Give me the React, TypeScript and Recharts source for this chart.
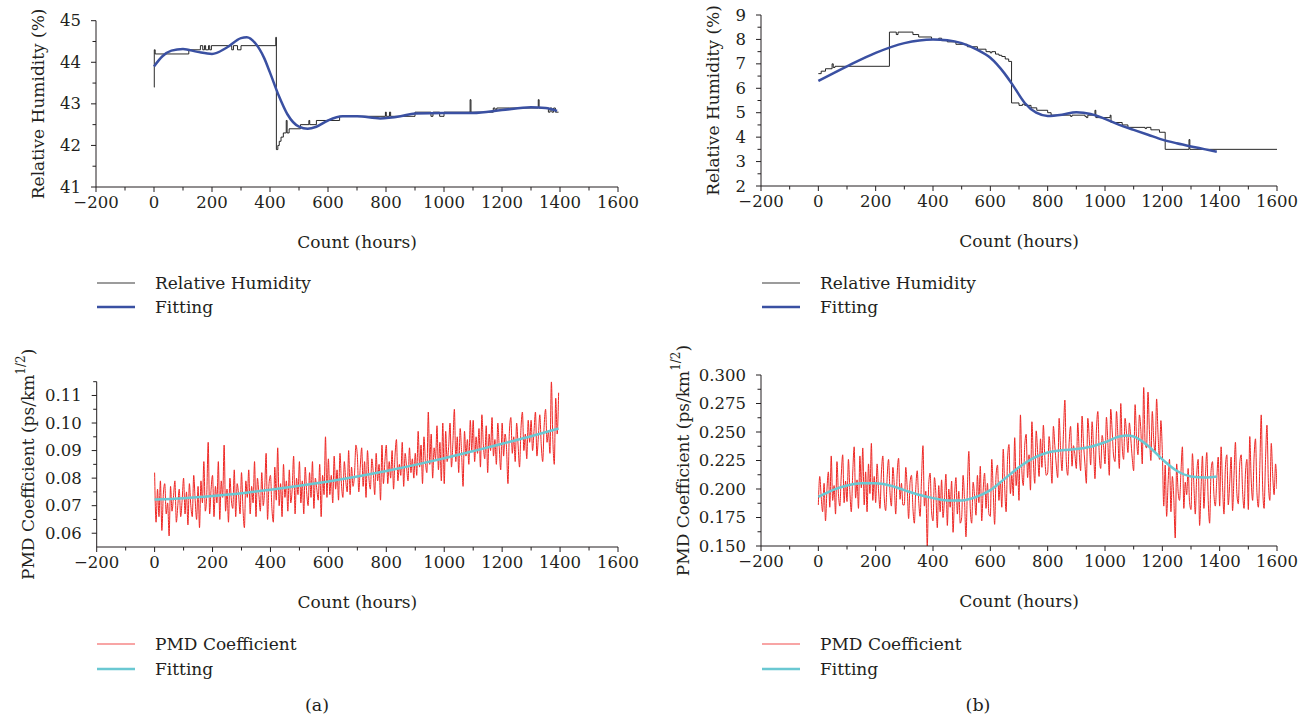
import React from "react";
import { LineChart, Line, XAxis, YAxis, Legend } from "recharts";

const FONT = '"DejaVu Serif", "Liberation Serif", serif';
const INK = "#231f20";

// shared x axis (hours)
const hourMajor = [-200, 0, 200, 400, 600, 800, 1000, 1200, 1400, 1600];
const hourMinor = [-100, 100, 300, 500, 700, 900, 1100, 1300, 1500];

// (a) relative humidity, step record
const rhAHours = [0, 1, 4, 120, 160, 168, 174, 178, 188, 192, 198, 268, 274, 288, 300, 420, 422, 427, 432, 438, 446, 456, 459, 466, 505, 534, 537, 560, 640, 798, 801, 812, 816, 900, 955, 962, 985, 1000, 1090, 1093, 1170, 1176, 1182, 1325, 1328, 1360, 1366, 1372, 1378, 1384, 1395];
const rhAValues = [43.4, 44.3, 44.2, 44.3, 44.4, 44.3, 44.4, 44.3, 44.4, 44.3, 44.4, 44.3, 44.4, 44.3, 44.4, 44.6, 41.9, 42.0, 42.1, 42.2, 42.3, 42.6, 42.3, 42.4, 42.5, 42.6, 42.5, 42.6, 42.7, 42.8, 42.7, 42.8, 42.7, 42.8, 42.7, 42.8, 42.7, 42.8, 43.1, 42.8, 42.9, 42.85, 42.9, 43.1, 42.9, 42.8, 42.9, 42.8, 42.9, 42.8, 42.8];
const fitAHours = [0, 30, 60, 100, 150, 200, 250, 300, 320, 350, 380, 400, 430, 460, 500, 530, 560, 600, 650, 700, 780, 850, 900, 1000, 1100, 1200, 1300, 1350, 1390];
const fitAValues = [43.9, 44.15, 44.28, 44.32, 44.25, 44.2, 44.35, 44.58, 44.6, 44.45, 44.1, 43.75, 43.2, 42.75, 42.45, 42.4, 42.45, 42.6, 42.7, 42.7, 42.65, 42.7, 42.77, 42.78, 42.78, 42.85, 42.92, 42.9, 42.83];

// (b) relative humidity, step record
const rhBHours = [0, 10, 25, 48, 52, 58, 248, 272, 278, 330, 350, 395, 420, 430, 450, 480, 520, 555, 585, 600, 605, 618, 630, 640, 652, 664, 674, 700, 712, 720, 742, 762, 800, 812, 880, 885, 930, 935, 940, 965, 968, 1018, 1021, 1060, 1080, 1140, 1145, 1160, 1190, 1210, 1293, 1296, 1600];
const rhBValues = [6.6, 6.7, 6.8, 7.0, 6.85, 6.9, 8.3, 8.2, 8.3, 8.2, 8.1, 8.0, 8.05, 7.95, 7.9, 7.8, 7.7, 7.6, 7.5, 7.45, 7.5, 7.4, 7.35, 7.3, 7.2, 7.1, 5.4, 5.3, 5.35, 5.3, 5.2, 5.1, 5.0, 4.9, 4.85, 4.9, 4.85, 4.8, 4.9, 5.1, 4.8, 4.9, 4.6, 4.5, 4.4, 4.35, 4.4, 4.3, 4.2, 3.5, 3.9, 3.5, 3.5];
const fitBHours = [0, 100, 200, 300, 400, 450, 500, 550, 600, 650, 680, 720, 760, 800, 850, 900, 950, 1000, 1050, 1100, 1150, 1200, 1250, 1300, 1350, 1390];
const fitBValues = [6.3, 6.9, 7.45, 7.85, 8.0, 7.97, 7.85, 7.6, 7.25, 6.6, 6.1, 5.4, 5.0, 4.87, 4.92, 5.02, 4.95, 4.75, 4.5, 4.3, 4.1, 3.9, 3.75, 3.62, 3.5, 3.4];

// PMD readings are one every 5 h starting at 0 h
const pmdStep = 5;

// (c) PMD coefficient, one row per 100 h
const pmdCValues = [
  0.082, 0.064, 0.076, 0.066, 0.079, 0.061, 0.074, 0.078, 0.067, 0.071, 0.059, 0.077, 0.068, 0.073, 0.079, 0.064, 0.070, 0.076, 0.066, 0.072,
  0.080, 0.067, 0.075, 0.063, 0.078, 0.070, 0.066, 0.081, 0.072, 0.065, 0.077, 0.062, 0.079, 0.071, 0.086, 0.068, 0.074, 0.093, 0.067, 0.076,
  0.081, 0.066, 0.077, 0.071, 0.086, 0.065, 0.079, 0.073, 0.092, 0.068, 0.076, 0.064, 0.080, 0.072, 0.069, 0.083, 0.066, 0.078, 0.074, 0.067,
  0.082, 0.069, 0.062, 0.079, 0.073, 0.083, 0.067, 0.077, 0.071, 0.086, 0.066, 0.080, 0.074, 0.068, 0.082, 0.070, 0.076, 0.089, 0.065, 0.078,
  0.081, 0.069, 0.064, 0.084, 0.072, 0.091, 0.070, 0.078, 0.066, 0.085, 0.073, 0.079, 0.068, 0.083, 0.071, 0.076, 0.088, 0.067, 0.080, 0.074,
  0.086, 0.071, 0.079, 0.067, 0.084, 0.075, 0.070, 0.082, 0.073, 0.086, 0.069, 0.080, 0.076, 0.072, 0.085, 0.066, 0.081, 0.074, 0.095, 0.073,
  0.087, 0.074, 0.081, 0.071, 0.088, 0.076, 0.083, 0.072, 0.089, 0.078, 0.073, 0.086, 0.079, 0.075, 0.090, 0.074, 0.084, 0.077, 0.081, 0.092,
  0.088, 0.075, 0.084, 0.091, 0.077, 0.086, 0.073, 0.090, 0.080, 0.076, 0.087, 0.082, 0.074, 0.089, 0.079, 0.085, 0.072, 0.092, 0.078, 0.086,
  0.092, 0.078, 0.086, 0.080, 0.090, 0.076, 0.088, 0.094, 0.079, 0.085, 0.081, 0.093, 0.077, 0.089, 0.084, 0.079, 0.091, 0.082, 0.087, 0.080,
  0.089, 0.081, 0.097, 0.084, 0.092, 0.078, 0.095, 0.086, 0.082, 0.104, 0.085, 0.096, 0.080, 0.091, 0.087, 0.099, 0.083, 0.093, 0.079, 0.100,
  0.078, 0.097, 0.086, 0.091, 0.100, 0.084, 0.093, 0.105, 0.086, 0.095, 0.082, 0.098, 0.089, 0.077, 0.097, 0.088, 0.094, 0.085, 0.101, 0.090,
  0.101, 0.086, 0.095, 0.089, 0.098, 0.084, 0.103, 0.092, 0.087, 0.099, 0.082, 0.096, 0.090, 0.102, 0.088, 0.094, 0.085, 0.100, 0.091, 0.083,
  0.100, 0.088, 0.096, 0.091, 0.078, 0.097, 0.102, 0.089, 0.095, 0.086, 0.100, 0.092, 0.084, 0.098, 0.104, 0.090, 0.096, 0.087, 0.101, 0.093,
  0.101, 0.090, 0.097, 0.104, 0.088, 0.095, 0.103, 0.092, 0.086, 0.099, 0.105, 0.093, 0.097, 0.089, 0.115, 0.094, 0.085, 0.109, 0.096, 0.111,
];
const fitCHours = [0, 100, 200, 300, 400, 500, 600, 700, 800, 900, 1000, 1100, 1200, 1300, 1395];
const fitCValues = [0.0722, 0.0727, 0.0735, 0.0745, 0.0758, 0.0772, 0.0788, 0.0806, 0.0826, 0.0848, 0.0872, 0.0898, 0.0925, 0.0952, 0.098];

// (d) PMD coefficient, one row per 100 h
const pmdDValues = [
  0.186, 0.211, 0.193, 0.180, 0.205, 0.172, 0.199, 0.215, 0.184, 0.229, 0.190, 0.203, 0.178, 0.224, 0.196, 0.185, 0.212, 0.230, 0.188, 0.207,
  0.189, 0.226, 0.198, 0.180, 0.214, 0.237, 0.192, 0.208, 0.183, 0.229, 0.201, 0.236, 0.186, 0.215, 0.180, 0.222, 0.196, 0.240, 0.190, 0.211,
  0.188, 0.222, 0.199, 0.183, 0.214, 0.229, 0.192, 0.181, 0.210, 0.226, 0.197, 0.185, 0.219, 0.203, 0.178, 0.213, 0.227, 0.191, 0.205, 0.186,
  0.186, 0.219, 0.201, 0.174, 0.206, 0.212, 0.183, 0.170, 0.201, 0.216, 0.190, 0.176, 0.209, 0.238, 0.185, 0.198, 0.150, 0.204, 0.214, 0.180,
  0.172, 0.210, 0.196, 0.166, 0.203, 0.180, 0.208, 0.175, 0.191, 0.213, 0.168, 0.200, 0.184, 0.207, 0.162, 0.193, 0.210, 0.178, 0.198, 0.170,
  0.175, 0.212, 0.190, 0.158, 0.201, 0.233, 0.183, 0.170, 0.206, 0.194, 0.177, 0.212, 0.188, 0.220, 0.172, 0.199, 0.214, 0.183, 0.205, 0.178,
  0.176, 0.226, 0.199, 0.169, 0.212, 0.221, 0.190, 0.207, 0.184, 0.235, 0.202, 0.180, 0.226, 0.239, 0.196, 0.212, 0.194, 0.245, 0.203, 0.218,
  0.190, 0.265, 0.216, 0.203, 0.238, 0.248, 0.210, 0.230, 0.199, 0.259, 0.225, 0.205, 0.251, 0.232, 0.211, 0.244, 0.219, 0.256, 0.228, 0.212,
  0.214, 0.246, 0.229, 0.205, 0.255, 0.238, 0.221, 0.210, 0.262, 0.235, 0.216, 0.248, 0.278, 0.224, 0.212, 0.241, 0.255, 0.220, 0.238, 0.230,
  0.218, 0.258, 0.233, 0.216, 0.264, 0.240, 0.222, 0.205, 0.262, 0.245, 0.221, 0.259, 0.236, 0.209, 0.251, 0.268, 0.230, 0.218, 0.247, 0.238,
  0.222, 0.263, 0.240, 0.212, 0.270, 0.251, 0.229, 0.224, 0.268, 0.246, 0.218, 0.275, 0.238, 0.226, 0.262, 0.249, 0.232, 0.258, 0.244, 0.227,
  0.216, 0.274, 0.245, 0.230, 0.265, 0.252, 0.222, 0.289, 0.240, 0.236, 0.285, 0.250, 0.225, 0.268, 0.243, 0.232, 0.279, 0.248, 0.226, 0.260,
  0.232, 0.185, 0.221, 0.176, 0.205, 0.226, 0.180, 0.211, 0.192, 0.157, 0.222, 0.198, 0.190, 0.215, 0.237, 0.183, 0.206, 0.195, 0.218, 0.188,
  0.182, 0.231, 0.204, 0.178, 0.213, 0.226, 0.168, 0.200, 0.229, 0.183, 0.210, 0.232, 0.190, 0.170, 0.216, 0.224, 0.195, 0.185, 0.209, 0.228,
  0.185, 0.237, 0.203, 0.178, 0.219, 0.230, 0.186, 0.205, 0.228, 0.181, 0.212, 0.241, 0.196, 0.187, 0.222, 0.230, 0.198, 0.183, 0.214, 0.226,
  0.182, 0.246, 0.208, 0.190, 0.228, 0.244, 0.197, 0.184, 0.219, 0.265, 0.201, 0.183, 0.226, 0.256, 0.205, 0.190, 0.240, 0.212, 0.195, 0.222,
  0.200,
];
const fitDHours = [0, 50, 100, 150, 200, 250, 300, 350, 400, 450, 500, 550, 600, 650, 700, 750, 800, 850, 900, 950, 1000, 1050, 1080, 1100, 1150, 1200, 1250, 1300, 1350, 1390];
const fitDValues = [0.193, 0.199, 0.203, 0.205, 0.205, 0.203, 0.199, 0.195, 0.192, 0.19, 0.19, 0.193, 0.199, 0.209, 0.219, 0.227, 0.232, 0.234, 0.235, 0.237, 0.241, 0.246, 0.247, 0.246, 0.238, 0.226, 0.216, 0.211, 0.21, 0.211];

const pairs = (hours: number[], values: number[]) => hours.map((h, i) => ({ h, v: values[i] }));
const sampled = (values: number[]) => values.map((v, i) => ({ h: i * pmdStep, v }));

const near = (v: number, list: number[]) => list.some((t) => Math.abs(t - v) < 1e-9);

function XTick(props: any) {
  const { x, y, payload } = props;
  const v = payload.value;
  const major = near(v, hourMajor);
  return (
    <g>
      <line x1={x} x2={x} y1={y} y2={y + (major ? 5 : 3.5)} stroke={INK} strokeWidth={1} />
      {major && (
        <text x={x} y={y + 21} textAnchor="middle" fill={INK} fontSize={16.5} fontFamily={FONT}>
          {v < 0 ? "\u2212" + Math.abs(v) : String(v)}
        </text>
      )}
    </g>
  );
}

function YTick(props: any) {
  const { x, y, payload, majors, digits } = props;
  const v = payload.value;
  const major = near(v, majors);
  return (
    <g>
      <line x1={x - (major ? 5 : 3.5)} x2={x} y1={y} y2={y} stroke={INK} strokeWidth={1} />
      {major && (
        <text x={x - 15} y={y + 5.5} textAnchor="end" fill={INK} fontSize={16.5} fontFamily={FONT}>
          {digits > 0 ? v.toFixed(digits) : String(v)}
        </text>
      )}
    </g>
  );
}

type Series = { name: string; data: { h: number; v: number }[]; color: string; width: number; step?: boolean; legendOpacity: number };

type PanelProps = {
  box: { left: number; top: number; width: number; height: number };
  plot: { left: number; top: number; right: number; bottom: number };
  yDomain: [number, number];
  yMajor: number[];
  yMinor: number[];
  digits: number;
  yTitle: React.ReactNode;
  yTitleX: number;
  series: Series[];
  legendLeft: number;
  legendTop: number;
  legendRow: number;
};

function Panel(p: PanelProps) {
  const yW = 50;
  const xH = 60;
  const margin = {
    top: p.plot.top - p.box.top,
    left: p.plot.left - p.box.left - yW,
    right: p.box.left + p.box.width - p.plot.right,
    bottom: p.box.top + p.box.height - p.plot.bottom - xH,
  };
  const cx = (p.plot.left + p.plot.right) / 2 - p.box.left;
  const cy = (p.plot.top + p.plot.bottom) / 2 - p.box.top;
  const tx = p.yTitleX - p.box.left;
  const xTitleY = p.plot.bottom + 55 - p.box.top;

  const legendContent = () => (
    <div style={{ fontFamily: FONT, fontSize: 17, color: INK }}>
      {p.series.map((s) => (
        <div key={s.name} style={{ display: "flex", alignItems: "center", height: p.legendRow, whiteSpace: "nowrap" }}>
          <svg width={38} height={6} style={{ display: "block" }}>
            <line x1={0} x2={38} y1={3} y2={3} stroke={s.color} strokeOpacity={s.legendOpacity} strokeWidth={Math.max(s.width, 1.4)} />
          </svg>
          <span style={{ marginLeft: 20 }}>{s.name}</span>
        </div>
      ))}
    </div>
  );

  return (
    <div style={{ position: "absolute", left: p.box.left, top: p.box.top, width: p.box.width, height: p.box.height }}>
      <LineChart width={p.box.width} height={p.box.height} margin={margin}>
        <XAxis
          type="number"
          dataKey="h"
          domain={[-200, 1600]}
          ticks={[...hourMajor, ...hourMinor].sort((a, b) => a - b)}
          interval={0}
          tickSize={0}
          tickMargin={0}
          tickLine={false}
          height={xH}
          allowDataOverflow
          axisLine={{ stroke: INK, strokeWidth: 1 }}
          tick={<XTick />}
          label={{
            content: () => (
              <text x={cx} y={xTitleY} textAnchor="middle" dominantBaseline="central" fill={INK} fontSize={17} fontFamily={FONT}>
                Count (hours)
              </text>
            ),
          }}
        />
        <YAxis
          type="number"
          dataKey="v"
          domain={p.yDomain}
          ticks={[...p.yMajor, ...p.yMinor].sort((a, b) => a - b)}
          interval={0}
          tickSize={0}
          tickMargin={0}
          tickLine={false}
          width={yW}
          allowDataOverflow
          axisLine={{ stroke: INK, strokeWidth: 1 }}
          tick={<YTick majors={p.yMajor} digits={p.digits} />}
          label={{
            content: () => (
              <text
                x={tx}
                y={cy}
                transform={`rotate(-90, ${tx}, ${cy})`}
                textAnchor="middle"
                dominantBaseline="central"
                fill={INK}
                fontSize={17}
                fontFamily={FONT}
              >
                {p.yTitle}
              </text>
            ),
          }}
        />
        <Legend
          layout="vertical"
          align="center"
          verticalAlign="middle"
          content={legendContent}
          wrapperStyle={{ left: p.legendLeft - p.box.left, top: p.legendTop - p.box.top, width: "auto", height: "auto" }}
        />
        {p.series.map((s) => (
          <Line
            key={s.name}
            name={s.name}
            data={s.data}
            dataKey="v"
            type={s.step ? "stepAfter" : "monotone"}
            stroke={s.color}
            strokeWidth={s.width}
            dot={false}
            activeDot={false}
            isAnimationActive={false}
          />
        ))}
      </LineChart>
    </div>
  );
}

const pmdTitle = (
  <>
    PMD Coefficient (ps/km
    <tspan dy={-7} fontSize={12}>1/2</tspan>
    <tspan dy={7}>)</tspan>
  </>
);

const caption = { position: "absolute" as const, top: 694, width: 40, textAlign: "center" as const, lineHeight: "22px", fontFamily: FONT, fontSize: 17.5, color: INK };

export default function App() {
  return (
    <div style={{ position: "absolute", left: 0, top: 0, width: 1315, height: 720, background: "#fff", overflow: "hidden" }}>
      <Panel
        box={{ left: 0, top: 0, width: 650, height: 330 }}
        plot={{ left: 96, top: 20.7, right: 618, bottom: 187 }}
        yDomain={[41, 45]}
        yMajor={[41, 42, 43, 44, 45]}
        yMinor={[41.5, 42.5, 43.5, 44.5]}
        digits={0}
        yTitle="Relative Humidity (%)"
        yTitleX={38}
        series={[
          { name: "Relative Humidity", data: pairs(rhAHours, rhAValues), color: "#111", width: 0.9, step: true, legendOpacity: 0.55 },
          { name: "Fitting", data: pairs(fitAHours, fitAValues), color: "#3a50a2", width: 2.5, legendOpacity: 1 },
        ]}
        legendLeft={97}
        legendTop={271}
        legendRow={24}
      />
      <Panel
        box={{ left: 660, top: 0, width: 655, height: 330 }}
        plot={{ left: 761, top: 15, right: 1277, bottom: 186 }}
        yDomain={[2, 9]}
        yMajor={[2, 3, 4, 5, 6, 7, 8, 9]}
        yMinor={[2.5, 3.5, 4.5, 5.5, 6.5, 7.5, 8.5]}
        digits={0}
        yTitle="Relative Humidity (%)"
        yTitleX={713}
        series={[
          { name: "Relative Humidity", data: pairs(rhBHours, rhBValues), color: "#111", width: 0.9, step: true, legendOpacity: 0.55 },
          { name: "Fitting", data: pairs(fitBHours, fitBValues), color: "#3a50a2", width: 2.5, legendOpacity: 1 },
        ]}
        legendLeft={762}
        legendTop={271}
        legendRow={24}
      />
      <Panel
        box={{ left: 0, top: 330, width: 650, height: 390 }}
        plot={{ left: 96.7, top: 381.7, right: 618, bottom: 547 }}
        yDomain={[0.055, 0.115]}
        yMajor={[0.06, 0.07, 0.08, 0.09, 0.1, 0.11]}
        yMinor={[0.065, 0.075, 0.085, 0.095, 0.105, 0.115]}
        digits={2}
        yTitle={pmdTitle}
        yTitleX={28}
        series={[
          { name: "PMD Coefficient", data: sampled(pmdCValues), color: "#ee2724", width: 1, legendOpacity: 0.55 },
          { name: "Fitting", data: pairs(fitCHours, fitCValues), color: "#6ac8d2", width: 2.5, legendOpacity: 1 },
        ]}
        legendLeft={97}
        legendTop={631}
        legendRow={25}
      />
      <Panel
        box={{ left: 660, top: 330, width: 655, height: 390 }}
        plot={{ left: 761, top: 375, right: 1277, bottom: 546 }}
        yDomain={[0.15, 0.3]}
        yMajor={[0.15, 0.175, 0.2, 0.225, 0.25, 0.275, 0.3]}
        yMinor={[0.1625, 0.1875, 0.2125, 0.2375, 0.2625, 0.2875]}
        digits={3}
        yTitle={pmdTitle}
        yTitleX={683}
        series={[
          { name: "PMD Coefficient", data: sampled(pmdDValues), color: "#ee2724", width: 1, legendOpacity: 0.55 },
          { name: "Fitting", data: pairs(fitDHours, fitDValues), color: "#6ac8d2", width: 2.5, legendOpacity: 1 },
        ]}
        legendLeft={762}
        legendTop={631}
        legendRow={25}
      />
      <div style={{ ...caption, left: 297 }}>(a)</div>
      <div style={{ ...caption, left: 958 }}>(b)</div>
    </div>
  );
}
